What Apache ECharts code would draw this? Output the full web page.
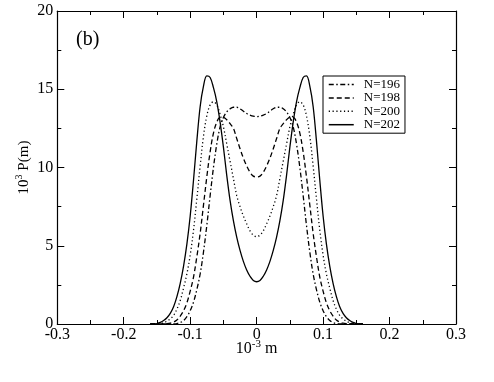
<!DOCTYPE html>
<html>
<head>
<meta charset="utf-8">
<script src="https://cdn.jsdelivr.net/npm/echarts@6/dist/echarts.min.js"></script>
<style>
html,body{margin:0;padding:0;background:#fff;}
#chart{width:494px;height:382px;}
</style>
</head>
<body>
<div id="chart"></div>
<script>
// sample positions (10^-3 m)
const xs = [-0.160,-0.155,-0.150,-0.145,-0.140,-0.135,-0.130,-0.125,-0.120,-0.115,-0.110,-0.105,-0.100,-0.095,-0.090,-0.085,-0.080,-0.075,-0.070,-0.065,-0.060,-0.055,-0.050,-0.045,-0.040,-0.035,-0.030,-0.025,-0.020,-0.015,-0.010,-0.005,0,
  0.005,0.010,0.015,0.020,0.025,0.030,0.035,0.040,0.045,0.050,0.055,0.060,0.065,0.070,0.075,0.080,0.085,0.090,0.095,0.100,0.105,0.110,0.115,0.120,0.125,0.130,0.135,0.140,0.145,0.150,0.155,0.160];

// 10^3 P(m) values
const n196 = [0,0,0,0,0,0,0,0.01,0.03,0.09,0.22,0.47,0.85,1.4,2.2,3.2,4.6,6.3,8.2,10.0,11.5,12.6,13.2,13.55,13.75,13.85,13.85,13.75,13.6,13.45,13.35,13.28,13.25,
  13.28,13.35,13.45,13.6,13.75,13.85,13.85,13.75,13.55,13.2,12.6,11.5,10.0,8.2,6.3,4.6,3.2,2.2,1.4,0.85,0.47,0.22,0.09,0.03,0.01,0,0,0,0,0,0,0];
const n198 = [0,0,0,0,0.01,0.02,0.05,0.12,0.25,0.5,0.85,1.35,2.1,3.0,4.3,5.8,7.6,9.4,11.0,12.2,12.9,13.2,13.2,13.05,12.8,12.5,11.85,11.2,10.6,10.1,9.7,9.45,9.4,
  9.45,9.7,10.1,10.6,11.2,11.85,12.5,12.8,13.05,13.2,13.2,12.9,12.2,11.0,9.4,7.6,5.8,4.3,3.0,2.1,1.35,0.85,0.5,0.25,0.12,0.05,0.02,0.01,0,0,0,0];
const n200 = [0,0,0.01,0.03,0.08,0.18,0.33,0.55,0.95,1.5,2.3,3.2,4.4,6.0,8.0,10.1,12.0,13.3,14.0,14.2,14.0,13.4,12.6,11.5,10.4,9.3,8.2,7.5,6.9,6.4,5.95,5.68,5.58,
  5.68,5.95,6.4,6.9,7.5,8.2,9.3,10.4,11.5,12.6,13.4,14.0,14.2,14.0,13.3,12.0,10.1,8.0,6.0,4.4,3.2,2.3,1.5,0.95,0.55,0.33,0.18,0.08,0.03,0.01,0,0];
const n202 = [0,0.01,0.03,0.1,0.22,0.4,0.68,1.1,1.75,2.6,3.7,5.1,6.9,9.2,11.7,13.9,15.2,15.85,15.75,15.1,14.2,12.9,11.3,9.5,7.9,6.6,5.55,4.7,4.0,3.45,3.05,2.78,2.7,
  2.78,3.05,3.45,4.0,4.7,5.55,6.6,7.9,9.5,11.3,12.9,14.2,15.1,15.75,15.85,15.2,13.9,11.7,9.2,6.9,5.1,3.7,2.6,1.75,1.1,0.68,0.4,0.22,0.1,0.03,0.01,0];

const seriesNames = ['N=196','N=198','N=200','N=202'];
const seriesValues = [n196, n198, n200, n202];
const dashTypes = [[5,2.5,1.5,2.5],[5,3],[1.2,2.6],'solid'];

const xTicks = [-0.3,-0.2,-0.1,0,0.1,0.2,0.3];
const yTicks = [0,5,10,15,20];

const FONT = '"Liberation Serif", "Times New Roman", serif';

const chart = echarts.init(document.getElementById('chart'), null, {renderer:'canvas'});

function mkX(pos, showLabel, name){
  return {
    type:'value', position:pos, min:xTicks[0], max:xTicks[xTicks.length-1], interval:0.1,
    axisLine:{show:true, onZero:false, lineStyle:{color:'#000', width:1.2}},
    axisTick:{show:true, inside:true, length:7, lineStyle:{color:'#000', width:1}},
    minorTick:{show:true, splitNumber:2, length:4, lineStyle:{color:'#000', width:1}},
    splitLine:{show:false}, minorSplitLine:{show:false},
    axisLabel:{show:showLabel, color:'#000', fontFamily:FONT, fontSize:16, margin:3,
      formatter:function(v){ const t = xTicks.find(a=>Math.abs(a-v)<1e-9); return t===undefined ? '' : String(t); }},
    name: name || '', nameLocation:'middle', nameGap:15, nameMoveOverlap:false,
    nameTextStyle:{ fontFamily:FONT, color:'#000',
      rich:{ a:{fontFamily:FONT, fontSize:16, lineHeight:20, color:'#000'},
             s:{fontFamily:FONT, fontSize:11, lineHeight:11, verticalAlign:'top', color:'#000'} } }
  };
}
function mkY(pos, showLabel, name){
  return {
    type:'value', position:pos, min:yTicks[0], max:yTicks[yTicks.length-1], interval:5,
    axisLine:{show:true, onZero:false, lineStyle:{color:'#000', width:1.2}},
    axisTick:{show:true, inside:true, length:7, lineStyle:{color:'#000', width:1}},
    minorTick:{show:true, splitNumber:2, length:4, lineStyle:{color:'#000', width:1}},
    splitLine:{show:false}, minorSplitLine:{show:false},
    axisLabel:{show:showLabel, color:'#000', fontFamily:FONT, fontSize:16, margin:4},
    name: name || '', nameLocation:'middle', nameGap:23, nameRotate:90, nameMoveOverlap:false,
    nameTextStyle:{ fontFamily:FONT, color:'#000',
      rich:{ a:{fontFamily:FONT, fontSize:15, lineHeight:20, color:'#000'},
             s:{fontFamily:FONT, fontSize:10, lineHeight:10, verticalAlign:'top', color:'#000'} } }
  };
}

const option = {
  animation:false,
  backgroundColor:'#fff',
  title:{ text:'(b)', left:76, top:30, padding:0,
    textStyle:{fontFamily:FONT, fontSize:20, fontWeight:'normal', color:'#000'} },
  grid:{ left:57.3, top:11, right:38, bottom:58, outerBoundsMode:'none', containLabel:false },
  legend:{
    show:true, orient:'vertical', left:323, top:76,
    data:seriesNames,
    itemWidth:25, itemHeight:13, itemGap:0.4,
    padding:[2,5,2,5],
    borderColor:'#000', borderWidth:1, backgroundColor:'#fff',
    itemStyle:{color:'rgba(0,0,0,0)', borderWidth:0, opacity:0},
    lineStyle:{width:1.5},
    textStyle:{fontFamily:FONT, fontSize:13, color:'#000', padding:[0,0,0,5], lineHeight:13}
  },
  xAxis:[ mkX('bottom', true, '{a|10}{s|-3}{a| m}'), mkX('top', false) ],
  yAxis:[ mkY('left', true, '{a|10}{s|3}{a| P(m)}'), mkY('right', false) ],
  series: seriesNames.map((nm, i) => ({
    name: nm, type:'line', xAxisIndex:0, yAxisIndex:0,
    data: xs.map((x, j) => [x, seriesValues[i][j]]),
    showSymbol:false, symbol:'none', smooth:0.35, clip:true,
    lineStyle:{color:'#000', width:1.3, type:dashTypes[i]},
    itemStyle:{color:'#000'}
  }))
};
chart.setOption(option);
</script>
</body>
</html>
